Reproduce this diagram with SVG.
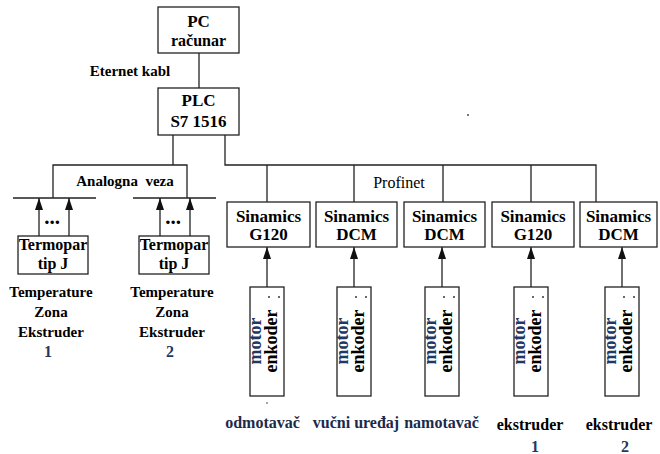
<svg xmlns="http://www.w3.org/2000/svg" width="660" height="454" viewBox="0 0 660 454">
<style>
.b{fill:#fff;stroke:#222;stroke-width:1.3}
.l{fill:none;stroke:#222;stroke-width:1.3}
text{font-family:'Liberation Serif','Times New Roman',serif;font-weight:bold;fill:#000;text-anchor:middle}
.s17{font-size:17px}
.s16{font-size:16px}
.s15{font-size:15px}
.n{fill:#1f3864}
.d{fill:#1c2a4a}
.rot{font-size:18px}
.pn{font-size:16px;font-weight:normal}
.dots{font-size:21px}
</style>
<defs>
<marker id="ah" viewBox="0 0 12 8" refX="12" refY="4" markerWidth="12" markerHeight="8" orient="auto" markerUnits="userSpaceOnUse"><path d="M0,0 L12,4 L0,8 z" fill="#111"/></marker>
</defs>
<rect width="660" height="454" fill="#fff"/>
<g id="connectors">
<path class="l" d="M199,53 V88"/>
<path class="l" d="M173,135 V165 M53,198 V165 H187 V198"/>
<path class="l" d="M13,198 H96 M133,198 H216"/>
<path class="l" d="M225,135 V165 H596 V202 M267,165 V202 M354,165 V202 M443,165 V202 M531,165 V202"/>
<path class="l" marker-end="url(#ah)" d="M39,236 V198"/>
<path class="l" marker-end="url(#ah)" d="M69,236 V198"/>
<path class="l" marker-end="url(#ah)" d="M160,236 V198"/>
<path class="l" marker-end="url(#ah)" d="M190,236 V198"/>
<path class="l" marker-end="url(#ah)" d="M267,287 V247"/>
<path class="l" marker-end="url(#ah)" d="M354,287 V247"/>
<path class="l" marker-end="url(#ah)" d="M442,287 V247"/>
<path class="l" marker-end="url(#ah)" d="M531,287 V247"/>
<path class="l" marker-end="url(#ah)" d="M622,287 V247"/>
<text class="s15" x="130" y="76">Eternet kabl</text>
<text class="s15" x="125" y="186" xml:space="preserve">Analogna  veza</text>
<text class="pn" x="399" y="188">Profinet</text>
<text class="dots" x="52" y="224">...</text>
<text class="dots" x="173" y="224">...</text>
</g>
<g id="pc"><rect class="b" x="158" y="7" width="81" height="46"/><text class="s17" x="198.5" y="27">PC</text><text class="s16" x="198.5" y="46">računar</text></g>
<g id="plc"><rect class="b" x="158" y="88" width="81" height="47"/><text class="s17" x="198.5" y="106">PLC</text><text class="s17" x="198.5" y="127">S7 1516</text></g>
<g id="termopar1"><rect class="b" x="18" y="236" width="70" height="38"/><text class="s16" x="53" y="250">Termopar</text><text class="s16" x="53" y="269">tip J</text>
<text class="s15" x="51" y="297">Temperature</text><text class="s15" x="51" y="317">Zona</text><text class="s15" x="51" y="337">Ekstruder</text><text class="s16 n" x="48" y="357">1</text></g>
<g id="termopar2"><rect class="b" x="139" y="236" width="70" height="38"/><text class="s16" x="174" y="250">Termopar</text><text class="s16" x="174" y="269">tip J</text>
<text class="s15" x="172" y="297">Temperature</text><text class="s15" x="172" y="317">Zona</text><text class="s15" x="172" y="337">Ekstruder</text><text class="s16 n" x="170" y="357">2</text></g>
<g id="sin1"><rect class="b" x="227" y="202" width="83" height="45"/><text class="s17" x="268.5" y="222">Sinamics</text><text class="s17" x="268.5" y="240">G120</text></g>
<g id="sin2"><rect class="b" x="316" y="202" width="81" height="45"/><text class="s17" x="356.5" y="222">Sinamics</text><text class="s17" x="356.5" y="240">DCM</text></g>
<g id="sin3"><rect class="b" x="404" y="202" width="81" height="45"/><text class="s17" x="444.5" y="222">Sinamics</text><text class="s17" x="444.5" y="240">DCM</text></g>
<g id="sin4"><rect class="b" x="492" y="202" width="82" height="45"/><text class="s17" x="533" y="222">Sinamics</text><text class="s17" x="533" y="240">G120</text></g>
<g id="sin5"><rect class="b" x="580" y="202" width="77" height="45"/><text class="s17" x="618.5" y="222">Sinamics</text><text class="s17" x="618.5" y="240">DCM</text></g>
<g id="enc1"><rect class="b" x="250" y="287" width="34" height="109"/><circle cx="269" cy="297" r="0.9" fill="#222"/><circle cx="279" cy="297" r="0.9" fill="#222"/>
<text class="rot n" transform="translate(261,341) rotate(-90)">motor</text><text class="rot" transform="translate(277,341) rotate(-90)">enkoder</text>
<text class="s16 d" x="262.5" y="428">odmotavač</text></g>
<g id="enc2"><rect class="b" x="337" y="287" width="34" height="109"/><circle cx="356" cy="297" r="0.9" fill="#222"/><circle cx="366" cy="297" r="0.9" fill="#222"/>
<text class="rot n" transform="translate(348,341) rotate(-90)">motor</text><text class="rot" transform="translate(364,341) rotate(-90)">enkoder</text>
<text class="s16 d" x="356" y="428">vučni uređaj</text></g>
<g id="enc3"><rect class="b" x="425" y="287" width="34" height="109"/><circle cx="444" cy="297" r="0.9" fill="#222"/><circle cx="454" cy="297" r="0.9" fill="#222"/>
<text class="rot n" transform="translate(436,341) rotate(-90)">motor</text><text class="rot" transform="translate(452,341) rotate(-90)">enkoder</text>
<text class="s16 d" x="441.5" y="428">namotavač</text></g>
<g id="enc4"><rect class="b" x="514" y="287" width="34" height="109"/><circle cx="533" cy="297" r="0.9" fill="#222"/><circle cx="543" cy="297" r="0.9" fill="#222"/>
<text class="rot n" transform="translate(525,341) rotate(-90)">motor</text><text class="rot" transform="translate(541,341) rotate(-90)">enkoder</text>
<text class="s16" x="530" y="430">ekstruder</text><text class="s16 n" x="535" y="452">1</text></g>
<g id="enc5"><rect class="b" x="605" y="287" width="34" height="109"/><circle cx="624" cy="297" r="0.9" fill="#222"/><circle cx="634" cy="297" r="0.9" fill="#222"/>
<text class="rot n" transform="translate(616,341) rotate(-90)">motor</text><text class="rot" transform="translate(632,341) rotate(-90)">enkoder</text>
<text class="s16" x="619" y="430">ekstruder</text><text class="s16 n" x="625" y="452">2</text></g>
<circle cx="267" cy="403" r="0.8" fill="#333"/>
<rect x="467" y="114" width="2" height="2" fill="#777"/>
</svg>
